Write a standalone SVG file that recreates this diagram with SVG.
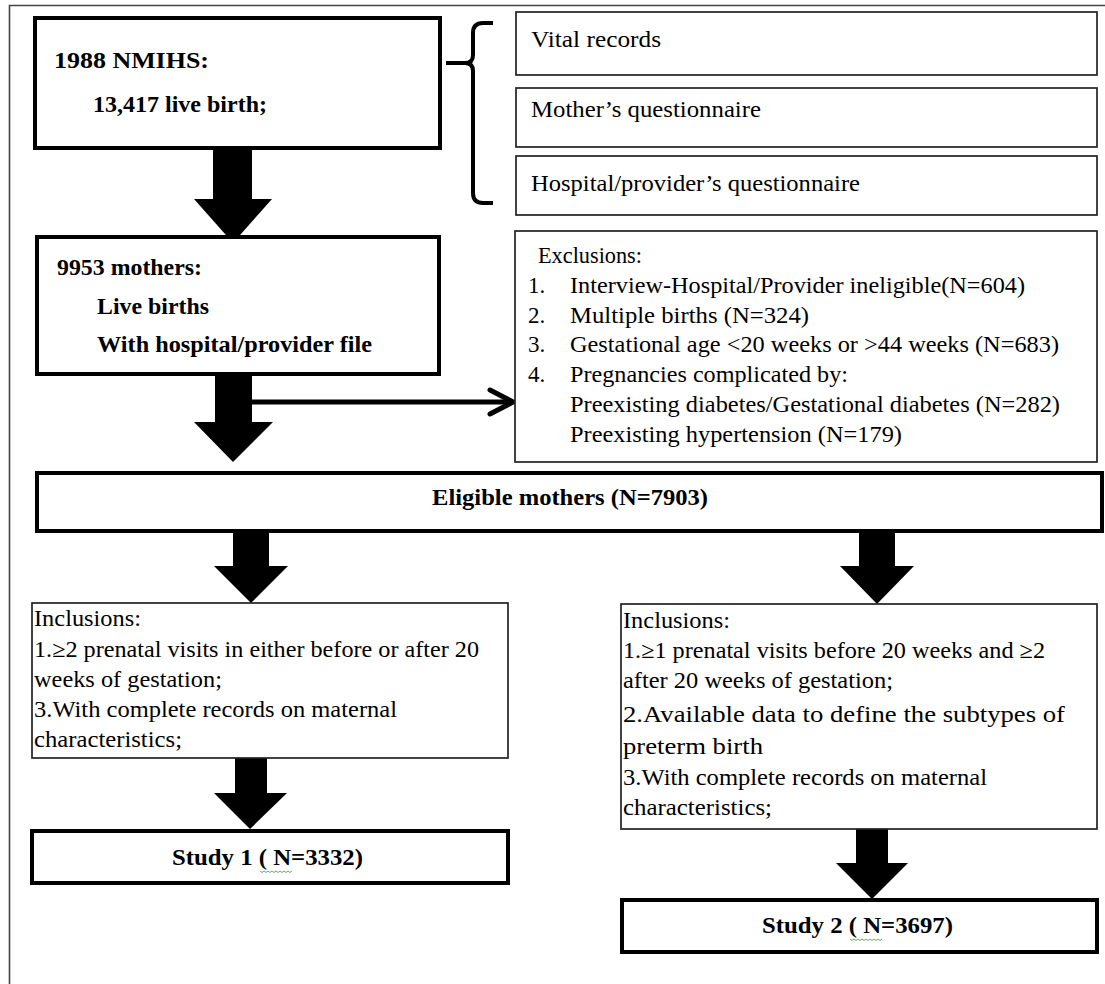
<svg xmlns="http://www.w3.org/2000/svg" width="1105" height="984" viewBox="0 0 1105 984">
<style>
.thin{fill:#fff;stroke:#222;stroke-width:1.7}
.thick{fill:#fff;stroke:#000;stroke-width:4}
.t{font-family:"Liberation Serif","Times New Roman",serif;font-size:23px;fill:#000}
.b{font-weight:bold}
.blk{fill:#000;stroke:none}
.wavy{fill:none;stroke:#6aa86a;stroke-width:1}
</style>
<rect x="0" y="0" width="1105" height="984" fill="#fff"/>
<path d="M9.5,990 L9.5,5.5 L1110,5.5" fill="none" stroke="#444" stroke-width="1.6"/>

<g id="connectors">
  <polygon class="blk" points="213,148 252,148 252,199 272,199 233,243 194,199 213,199"/>
  <path d="M493,23 L483,23 Q473,23 473,33 L473,55 Q473,63 465,63 L446,63 M465,63 Q473,63 473,71 L473,193 Q473,203 483,203 L493,203" fill="none" stroke="#000" stroke-width="4"/>
  <polygon class="blk" points="215,374 252,374 252,422 273,422 233,462 194,422 215,422"/>
  <line x1="250" y1="402" x2="512" y2="402" stroke="#000" stroke-width="5"/>
  <polyline points="490,390 513,402 490,414" fill="none" stroke="#000" stroke-width="5" stroke-linecap="round" stroke-linejoin="round"/>
  <polygon class="blk" points="233,531 269,531 269,566 288,566 251,603 214,566 233,566"/>
  <polygon class="blk" points="859,531 895,531 895,566 914,566 877,604 840,566 859,566"/>
  <polygon class="blk" points="235,758 267,758 267,793 287,793 250,829 214,793 235,793"/>
  <polygon class="blk" points="856,829 888,829 888,863 908,863 872,899 836,863 856,863"/>
</g>

<g id="n1988">
  <rect class="thick" x="35" y="18" width="405" height="130"/>
  <text class="t b" x="54" y="68" font-size="25" textLength="155" lengthAdjust="spacingAndGlyphs">1988 NMIHS:</text>
  <text class="t b" x="93" y="112" textLength="174" lengthAdjust="spacingAndGlyphs">13,417 live birth;</text>
</g>

<g id="vital">
  <rect class="thin" x="516" y="12" width="581" height="63"/>
  <text class="t" x="531" y="47" textLength="130" lengthAdjust="spacingAndGlyphs">Vital records</text>
</g>
<g id="mother">
  <rect class="thin" x="516" y="88" width="581" height="59"/>
  <text class="t" x="531" y="117" textLength="230" lengthAdjust="spacingAndGlyphs">Mother’s questionnaire</text>
</g>
<g id="hospital">
  <rect class="thin" x="516" y="156" width="581" height="59"/>
  <text class="t" x="531" y="191" textLength="329" lengthAdjust="spacingAndGlyphs">Hospital/provider’s questionnaire</text>
</g>

<g id="mothers9953">
  <rect class="thick" x="37" y="237" width="402" height="137"/>
  <text class="t b" x="57" y="275" textLength="145" lengthAdjust="spacingAndGlyphs">9953 mothers:</text>
  <text class="t b" x="97" y="314" textLength="112" lengthAdjust="spacingAndGlyphs">Live births</text>
  <text class="t b" x="97" y="352" textLength="275" lengthAdjust="spacingAndGlyphs">With hospital/provider file</text>
</g>

<g id="exclusions">
  <rect class="thin" x="515" y="231" width="582" height="231"/>
  <text class="t" x="538" y="263" textLength="104" lengthAdjust="spacingAndGlyphs">Exclusions:</text>
  <text class="t" x="528" y="293">1.</text>
  <text class="t" x="570" y="293" textLength="455" lengthAdjust="spacingAndGlyphs">Interview-Hospital/Provider ineligible(N=604)</text>
  <text class="t" x="528" y="323">2.</text>
  <text class="t" x="570" y="323" textLength="239" lengthAdjust="spacingAndGlyphs">Multiple births (N=324)</text>
  <text class="t" x="528" y="352">3.</text>
  <text class="t" x="570" y="352" textLength="489" lengthAdjust="spacingAndGlyphs">Gestational age &lt;20 weeks or &gt;44 weeks (N=683)</text>
  <text class="t" x="528" y="382">4.</text>
  <text class="t" x="570" y="382" textLength="278" lengthAdjust="spacingAndGlyphs">Pregnancies complicated by:</text>
  <text class="t" x="570" y="412" textLength="490" lengthAdjust="spacingAndGlyphs">Preexisting diabetes/Gestational diabetes (N=282)</text>
  <text class="t" x="570" y="442" textLength="332" lengthAdjust="spacingAndGlyphs">Preexisting hypertension (N=179)</text>
</g>

<g id="eligible">
  <rect class="thick" x="37" y="473" width="1065" height="58"/>
  <text class="t b" x="432" y="505" textLength="276" lengthAdjust="spacingAndGlyphs">Eligible mothers (N=7903)</text>
</g>

<g id="inclusions1">
  <rect class="thin" x="32" y="603" width="476" height="155"/>
  <text class="t" x="34" y="626" textLength="107" lengthAdjust="spacingAndGlyphs">Inclusions:</text>
  <text class="t" x="34" y="657" textLength="445" lengthAdjust="spacingAndGlyphs">1.≥2 prenatal visits in either before or after 20</text>
  <text class="t" x="34" y="687" textLength="188" lengthAdjust="spacingAndGlyphs">weeks of gestation;</text>
  <text class="t" x="34" y="717" textLength="363" lengthAdjust="spacingAndGlyphs">3.With complete records on maternal</text>
  <text class="t" x="34" y="747" textLength="148" lengthAdjust="spacingAndGlyphs">characteristics;</text>
</g>

<g id="study1">
  <rect class="thick" x="32" y="831" width="476" height="52"/>
  <text class="t b" x="172" y="865" textLength="191" lengthAdjust="spacingAndGlyphs">Study 1 ( N=3332)</text>
  <path class="wavy" d="M260,871 l2,1.5 l2,-1.5 l2,1.5 l2,-1.5 l2,1.5 l2,-1.5 l2,1.5 l2,-1.5 l2,1.5 l2,-1.5 l2,1.5 l2,-1.5 l2,1.5 l2,-1.5 l2,1.5 l2,-1.5"/>
</g>

<g id="inclusions2">
  <rect class="thin" x="621" y="604" width="476" height="225"/>
  <text class="t" x="623" y="628" textLength="107" lengthAdjust="spacingAndGlyphs">Inclusions:</text>
  <text class="t" x="623" y="658" textLength="422" lengthAdjust="spacingAndGlyphs">1.≥1 prenatal visits before 20 weeks and ≥2</text>
  <text class="t" x="623" y="688" textLength="270" lengthAdjust="spacingAndGlyphs">after 20 weeks of gestation;</text>
  <text class="t" x="623" y="722" font-size="27" textLength="442" lengthAdjust="spacingAndGlyphs">2.Available data to define the subtypes of</text>
  <text class="t" x="623" y="754" font-size="27" textLength="140" lengthAdjust="spacingAndGlyphs">preterm birth</text>
  <text class="t" x="623" y="785" textLength="364" lengthAdjust="spacingAndGlyphs">3.With complete records on maternal</text>
  <text class="t" x="623" y="815" textLength="149" lengthAdjust="spacingAndGlyphs">characteristics;</text>
</g>

<g id="study2">
  <rect class="thick" x="622" y="900" width="475" height="52"/>
  <text class="t b" x="762" y="933" textLength="191" lengthAdjust="spacingAndGlyphs">Study 2 ( N=3697)</text>
  <path class="wavy" d="M850,939 l2,1.5 l2,-1.5 l2,1.5 l2,-1.5 l2,1.5 l2,-1.5 l2,1.5 l2,-1.5 l2,1.5 l2,-1.5 l2,1.5 l2,-1.5 l2,1.5 l2,-1.5 l2,1.5 l2,-1.5"/>
</g>
</svg>
